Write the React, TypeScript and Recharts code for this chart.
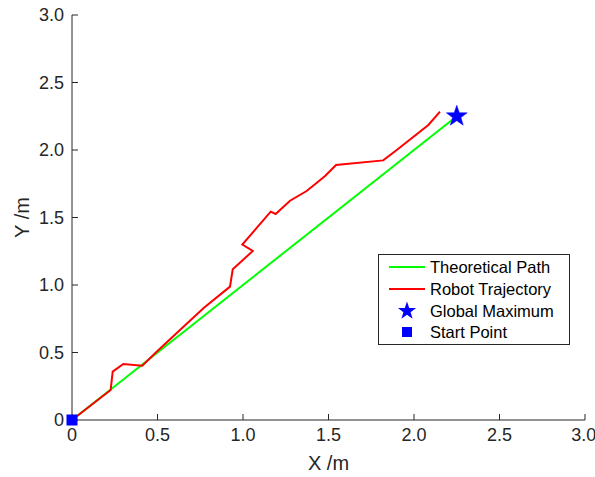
import React from 'react';
import { ComposedChart, Line, Scatter, XAxis, YAxis, Legend } from 'recharts';

const theoreticalX = [0, 2.25];
const theoreticalY = [0, 2.25];
const robotX = [0, 0.226, 0.238, 0.3, 0.411, 0.495, 0.6, 0.77, 0.924, 0.94, 1.057, 0.996, 1.162, 1.191, 1.275, 1.372, 1.43, 1.48, 1.544, 1.82, 1.899, 2.084, 2.152];
const robotY = [0, 0.222, 0.358, 0.415, 0.402, 0.506, 0.63, 0.83, 0.988, 1.116, 1.252, 1.3, 1.543, 1.526, 1.624, 1.696, 1.755, 1.807, 1.889, 1.923, 2.0, 2.185, 2.284];
const globalMaxX = [2.25];
const globalMaxY = [2.25];
const startX = [0];
const startY = [0];
const axisTicks = [0, 0.5, 1, 1.5, 2, 2.5, 3];

const FONT = '"Liberation Sans", Arial, Helvetica, sans-serif';
const AXIS = '#262626';
const GREEN = '#00ff00';
const RED = '#ff0000';
const BLUE = '#0000ff';

const zip = (xs: number[], ys: number[]) => xs.map((x, i) => ({ x, y: ys[i] }));
const theoreticalData = zip(theoreticalX, theoreticalY);
const robotData = zip(robotX, robotY);
const maxData = zip(globalMaxX, globalMaxY);
const startData = zip(startX, startY);

function starPath(cx: number, cy: number, R: number, r: number) {
  const pts: string[] = [];
  for (let i = 0; i < 10; i++) {
    const rad = i % 2 === 0 ? R : r;
    const a = -Math.PI / 2 + (i * Math.PI) / 5;
    pts.push(`${(cx + rad * Math.cos(a)).toFixed(2)},${(cy + rad * Math.sin(a)).toFixed(2)}`);
  }
  return 'M' + pts.join('L') + 'Z';
}

const StarShape = (props: any) => {
  const { cx, cy } = props;
  if (cx == null || cy == null) return null;
  return <path d={starPath(cx, cy, 11, 4.4)} fill={BLUE} stroke={BLUE} strokeWidth={0.5} />;
};

const SquareShape = (props: any) => {
  const { cx, cy } = props;
  if (cx == null || cy == null) return null;
  return <rect x={cx - 5.5} y={cy - 5.5} width={11} height={11} fill={BLUE} />;
};

const legendItems = [
  { label: 'Theoretical Path', kind: 'line', color: GREEN },
  { label: 'Robot Trajectory', kind: 'line', color: RED },
  { label: 'Global Maximum', kind: 'star', color: BLUE },
  { label: 'Start Point', kind: 'square', color: BLUE },
];

const LegendBox = () => (
  <div
    style={{
      boxSizing: 'border-box',
      width: 192,
      height: 91,
      border: `1px solid ${AXIS}`,
      background: '#fff',
      padding: '1px 0 0 0',
      fontFamily: FONT,
      fontSize: 16.5,
      color: '#000',
    }}
  >
    {legendItems.map((it) => (
      <div key={it.label} style={{ display: 'flex', alignItems: 'center', height: 21.8, whiteSpace: 'nowrap' }}>
        <svg width={51} height={22} style={{ display: 'block', flex: 'none' }}>
          {it.kind === 'line' && <line x1={10} x2={46} y1={11} y2={11} stroke={it.color} strokeWidth={2} />}
          {it.kind === 'star' && <path d={starPath(28, 11, 9.5, 3.8)} fill={it.color} />}
          {it.kind === 'square' && <rect x={23} y={6} width={10} height={10} fill={it.color} />}
        </svg>
        <span style={{ lineHeight: '22px' }}>{it.label}</span>
      </div>
    ))}
  </div>
);

const fmt = (v: number) => (v === 0 ? '0' : v.toFixed(1));

export default function App() {
  return (
    <div style={{ position: 'absolute', left: 0, top: 0, width: 595, height: 477, background: '#fff' }}>
      <ComposedChart
        width={595}
        height={477}
        margin={{ top: 15, right: 10, bottom: 27, left: 0 }}
        style={{ fontFamily: FONT }}
      >
        <XAxis
          dataKey="x"
          type="number"
          domain={[0, 3]}
          ticks={axisTicks}
          tickFormatter={fmt}
          height={30}
          stroke={AXIS}
          tickSize={-6}
          tickMargin={14}
          tick={{ fill: AXIS, fontSize: 18, fontFamily: FONT }}
          label={{
            content: () => (
              <text x={328.5} y={470} textAnchor="middle" fill={AXIS} fontSize={20} fontFamily={FONT}>
                X /m
              </text>
            ),
          }}
        />
        <YAxis
          type="number"
          domain={[0, 3]}
          ticks={axisTicks}
          tickFormatter={fmt}
          width={72}
          stroke={AXIS}
          tickSize={-6}
          tickMargin={14}
          tick={{ fill: AXIS, fontSize: 18, fontFamily: FONT }}
          label={{
            content: () => (
              <text
                x={29}
                y={217.5}
                transform="rotate(-90 29 217.5)"
                textAnchor="middle"
                fill={AXIS}
                fontSize={20}
                fontFamily={FONT}
              >
                Y /m
              </text>
            ),
          }}
        />
        <Line
          data={theoreticalData}
          dataKey="y"
          stroke={GREEN}
          strokeWidth={2}
          dot={false}
          activeDot={false}
          isAnimationActive={false}
          name="Theoretical Path"
        />
        <Line
          data={robotData}
          dataKey="y"
          stroke={RED}
          strokeWidth={2}
          dot={false}
          activeDot={false}
          isAnimationActive={false}
          name="Robot Trajectory"
        />
        <Scatter data={maxData} dataKey="y" shape={StarShape} isAnimationActive={false} name="Global Maximum" />
        <Scatter data={startData} dataKey="y" shape={SquareShape} isAnimationActive={false} name="Start Point" />
        <Legend
          layout="horizontal"
          verticalAlign="middle"
          align="center"
          content={() => <LegendBox />}
          wrapperStyle={{ position: 'absolute', left: 378, top: 254, width: 192, height: 91 }}
        />
      </ComposedChart>
    </div>
  );
}
